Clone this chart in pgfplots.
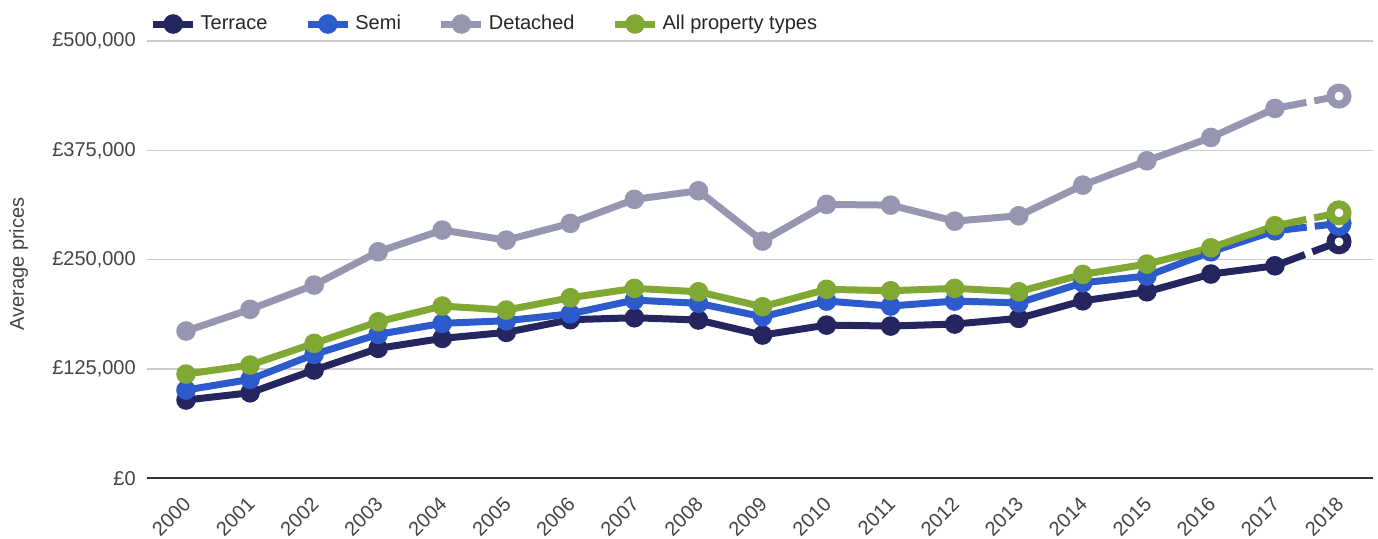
\documentclass[border=0pt]{standalone}
\usepackage{pgfplots}
\pgfplotsset{compat=1.18}
\usepackage{fontspec}
\setmainfont{Liberation Sans}

\definecolor{terrace}{RGB}{37,38,96}
\definecolor{semi}{RGB}{45,91,204}
\definecolor{detached}{RGB}{150,150,176}
\definecolor{allprop}{RGB}{130,168,52}
\definecolor{labelc}{RGB}{68,68,68}
\definecolor{gridc}{RGB}{204,204,204}
\definecolor{axisc}{RGB}{51,51,51}

\pgfplotsset{
  series/.style={color=#1, line width=3.5pt, mark=*, mark size=4.5pt,
    mark options={solid, line width=0.8pt, fill=#1}},
  lastseg/.style={color=#1, line width=3.5pt, dash pattern=on 16pt off 4pt,
    forget plot, mark=*, mark indices={2}, mark size=4.25pt,
    mark options={solid, fill=white, draw=#1, line width=4pt}},
}

\begin{document}
\begin{tikzpicture}
\begin{axis}[
  name=ax,
  scale only axis, width=613pt, height=218.6pt,
  xmin=1999.386, xmax=2018.526, ymin=0, ymax=500000,
  axis lines*=left,
  y axis line style={draw=none},
  x axis line style={line width=1pt, color=axisc},
  major tick length=0pt,
  xtick={2000,...,2018},
  ytick={0,125000,250000,375000,500000},
  yticklabels={{£0},{£125,000},{£250,000},{£375,000},{£500,000}},
  scaled y ticks=false,
  /pgf/number format/.cd, 1000 sep={}, assume math mode=true, /pgfplots/.cd,
  ymajorgrids, grid style={line width=0.8pt, color=gridc},
  tick label style={font=\fontsize{10}{12}\selectfont, text=labelc},
  yticklabel style={anchor=east, inner sep=0pt, xshift=-5.3pt},
  xticklabel style={xshift=-2pt, yshift=-8.7pt, rotate=45, anchor=north east, inner sep=0pt},
  ylabel={Average prices},
  y label style={at={(rel axis cs:-0.1044,0.49)}, anchor=center,
    font=\fontsize{10}{12}\selectfont, text=labelc},
  legend style={at={(rel axis cs:0,1)}, anchor=west, xshift=1.5pt, yshift=8.5pt,
    draw=none, fill=none, inner sep=0pt, outer sep=0pt,
    font=\fontsize{10}{12}\selectfont, text=black!85,
    /tikz/every even column/.append style={column sep=16.5pt}},
  legend columns=-1,
  legend image code/.code={\draw[mark repeat=2, mark phase=2, #1]
    plot coordinates {(0pt,0pt) (10pt,0pt) (20pt,0pt)};},
]

% Terrace
\addplot[series=terrace] coordinates {
  (2000,89400) (2001,97700) (2002,123700) (2003,148500) (2004,159900)
  (2005,166800) (2006,181300) (2007,183500) (2008,180900) (2009,163700)
  (2010,175100) (2011,174000) (2012,176300) (2013,182800) (2014,202900)
  (2015,213200) (2016,233500) (2017,242900)
};
\addlegendentry{Terrace}

% Semi
\addplot[series=semi] coordinates {
  (2000,100800) (2001,113000) (2002,141600) (2003,164500) (2004,177100)
  (2005,180100) (2006,188000) (2007,203700) (2008,200000) (2009,184600)
  (2010,202600) (2011,196900) (2012,202600) (2013,200500) (2014,223500)
  (2015,231200) (2016,258900) (2017,282900)
};
\addlegendentry{Semi}

% Detached
\addplot[series=detached] coordinates {
  (2000,168300) (2001,193100) (2002,220900) (2003,259000) (2004,283800)
  (2005,272300) (2006,291400) (2007,318900) (2008,328700) (2009,271200)
  (2010,313100) (2011,312300) (2012,294000) (2013,300100) (2014,335200)
  (2015,363000) (2016,389700) (2017,422900)
};
\addlegendentry{Detached}

% All property types
\addplot[series=allprop] coordinates {
  (2000,119100) (2001,129400) (2002,154200) (2003,178900) (2004,196900)
  (2005,192300) (2006,206400) (2007,217100) (2008,213200) (2009,196100)
  (2010,216000) (2011,214400) (2012,217100) (2013,213300) (2014,233100)
  (2015,244900) (2016,263500) (2017,288700)
};
\addlegendentry{All property types}

% 2018 (provisional), dashed
\addplot[lastseg=terrace] coordinates {(2017,242900) (2018,270400)};
\addplot[lastseg=semi] coordinates {(2017,282900) (2018,291400)};
\addplot[lastseg=detached] coordinates {(2017,422900) (2018,437000)};
\addplot[lastseg=allprop] coordinates {(2017,288700) (2018,303500)};

\end{axis}
\pgfresetboundingbox
\path[use as bounding box] ([xshift=-73.35pt,yshift=-29.9pt]ax.south west)
  rectangle ([xshift=615.65pt,yshift=239.1pt]ax.south west);
\end{tikzpicture}
\end{document}
